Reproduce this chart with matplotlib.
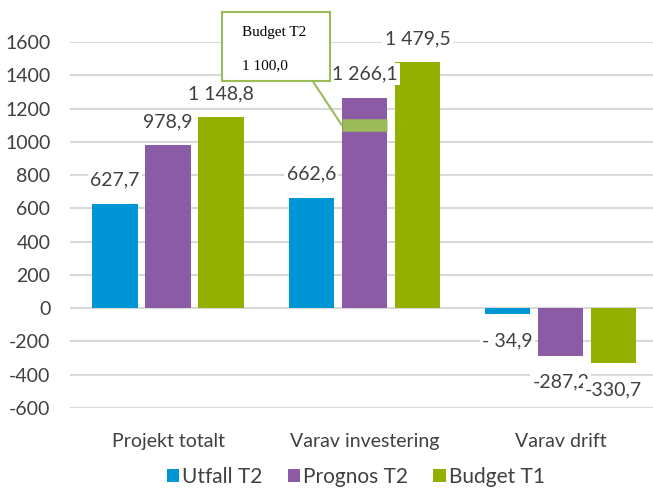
import numpy as np
import matplotlib
matplotlib.use("Agg")
import matplotlib.pyplot as plt
from matplotlib.patches import Rectangle

plt.rcParams["font.family"] = ["Lato", "DejaVu Sans"]
plt.rcParams["axes.unicode_minus"] = False

# --- data ---
categories = ["Projekt totalt", "Varav investering", "Varav drift"]
series_names = ["Utfall T2", "Prognos T2", "Budget T1"]
utfall_t2 = [627.7, 662.6, -34.9]
prognos_t2 = [978.9, 1266.1, -287.2]
budget_t1 = [1148.8, 1479.5, -330.7]
budget_t2 = 1100.0  # markering på Prognos T2, Varav investering
colors = ["#0096D6", "#8B5BA5", "#93B000"]
yticks = list(range(-600, 1601, 200))


def fmt(v):
    s = f"{abs(v):,.1f}".replace(",", " ").replace(".", ",")
    if v < 0:
        return ("- " if abs(v) < 100 else "-") + s
    return s


fig = plt.figure(figsize=(6.53, 4.92), dpi=100)
ax = fig.add_axes([0.107, 0.1707, 0.893, 0.7439])

x = np.arange(len(categories))
width = 0.23
offset = 0.27
all_series = [utfall_t2, prognos_t2, budget_t1]

for i, (name, vals, c) in enumerate(zip(series_names, all_series, colors)):
    xs = x + (i - 1) * offset
    ax.bar(xs, vals, width, color=c, label=name, zorder=2)
    for xi, v in zip(xs, vals):
        dy = 17 if v >= 0 else -19
        ax.annotate(fmt(v), (xi, v), xytext=(0, dy), textcoords="offset points",
                    ha="center", va="center", fontsize=14, color="#404040",
                    bbox=dict(boxstyle="square,pad=0.12", fc="white", ec="none"),
                    zorder=4)

# Budget T2-markering
xb = x[1]
ax.hlines(budget_t2, xb - width / 2, xb + width / 2, color="#9BBB59", lw=9, zorder=3)

# callout
box = Rectangle((0.340, 0.835), 0.165, 0.141, transform=fig.transFigure,
                fc="white", ec="#9BBB59", lw=1.5, zorder=5)
fig.patches.append(box)
fig.text(0.370, 0.933, "Budget T2", family="Liberation Serif", fontsize=11,
         va="center", ha="left", color="black", zorder=6)
fig.text(0.371, 0.866, "1 100,0", family="Liberation Serif", fontsize=11,
         va="center", ha="left", color="black", zorder=6)
ax.annotate("", xy=(xb - width / 2, budget_t2), xycoords="data",
            xytext=(0.479, 0.835), textcoords="figure fraction",
            arrowprops=dict(arrowstyle="-", color="#9BBB59", lw=1.5,
                            shrinkA=0, shrinkB=0), annotation_clip=False)

ax.set_xlim(-0.5, 2.47)
ax.set_ylim(-600, 1600)
ax.set_yticks(yticks)
ax.set_yticklabels([str(t) for t in yticks])
ax.set_xticks(x)
ax.set_xticklabels(categories)
ax.tick_params(axis="both", length=0, labelsize=14, colors="#404040")
ax.tick_params(axis="x", pad=18)
ax.tick_params(axis="y", pad=14)
ax.grid(axis="y", color="#D9D9D9", lw=1.5, zorder=0)
ax.set_axisbelow(True)
for s in ax.spines.values():
    s.set_visible(False)

fig.legend(loc="lower center", bbox_to_anchor=(0.545, -0.028), ncol=3, frameon=False,
           fontsize=15, handlelength=0.6, handleheight=0.6, handletextpad=0.15,
           columnspacing=1.2, labelcolor="#404040")

fig.savefig("out.png", dpi=100)
